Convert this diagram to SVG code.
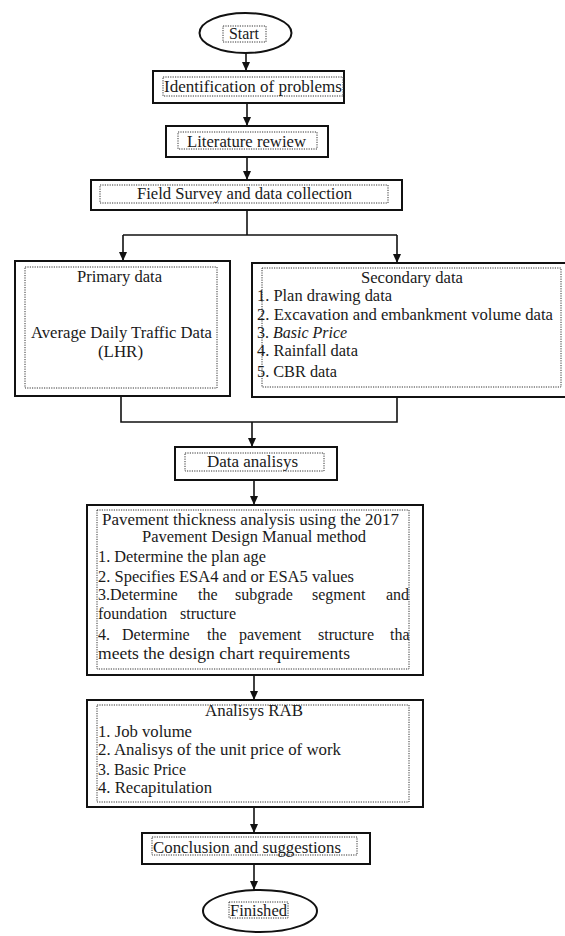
<svg xmlns="http://www.w3.org/2000/svg" width="565" height="936" viewBox="0 0 565 936">
<defs>
<style>
.box{fill:#fff;stroke:#111;stroke-width:2}
.dot{fill:none;stroke:#333;stroke-width:1;stroke-dasharray:1.2 1.2}
.ln{fill:none;stroke:#111;stroke-width:1.6}
text{font-family:'Liberation Serif','Times New Roman',serif;font-size:16px;fill:#1a1a1a}
</style>
<marker id="ah" markerUnits="userSpaceOnUse" markerWidth="10" markerHeight="10" viewBox="0 0 10 10" refX="9" refY="5" orient="auto">
<path d="M0,1 L9,5 L0,9 Z" fill="#111"/>
</marker>
</defs>
<rect width="565" height="936" fill="#fff"/>

<g id="connectors">
<line class="ln" x1="246" y1="53" x2="246" y2="71" marker-end="url(#ah)"/>
<line class="ln" x1="247" y1="103" x2="247" y2="126" marker-end="url(#ah)"/>
<line class="ln" x1="247" y1="157" x2="247" y2="180" marker-end="url(#ah)"/>
<polyline class="ln" points="247,210 247,235"/>
<line class="ln" x1="123" y1="235" x2="397" y2="235"/>
<line class="ln" x1="123" y1="235" x2="123" y2="261" marker-end="url(#ah)"/>
<line class="ln" x1="397" y1="235" x2="397" y2="263" marker-end="url(#ah)"/>
<polyline class="ln" points="121,396 121,422 397,422 397,397"/>
<line class="ln" x1="252" y1="422" x2="252" y2="447" marker-end="url(#ah)"/>
<line class="ln" x1="254" y1="480" x2="254" y2="505" marker-end="url(#ah)"/>
<line class="ln" x1="254" y1="675" x2="254" y2="700" marker-end="url(#ah)"/>
<line class="ln" x1="254" y1="807" x2="254" y2="833" marker-end="url(#ah)"/>
<line class="ln" x1="254" y1="864" x2="254" y2="890" marker-end="url(#ah)"/>
</g>

<g id="start">
<ellipse class="box" cx="245.5" cy="33" rx="46" ry="20" stroke-width="1.6"/>
<rect class="dot" x="223" y="26" width="43" height="16"/>
<text x="229" y="39" textLength="30" lengthAdjust="spacingAndGlyphs">Start</text>
</g>

<g id="identification">
<rect class="box" x="153" y="71" width="191" height="32"/>
<rect class="dot" x="163" y="77" width="180" height="19"/>
<text x="164" y="92" textLength="178" lengthAdjust="spacingAndGlyphs">Identification of problems</text>
</g>

<g id="literature">
<rect class="box" x="166" y="126" width="162" height="31"/>
<rect class="dot" x="178" y="132" width="139" height="17"/>
<text x="187" y="147" textLength="119" lengthAdjust="spacingAndGlyphs">Literature rewiew</text>
</g>

<g id="field-survey">
<rect class="box" x="91" y="180" width="311" height="30"/>
<rect class="dot" x="100" y="185" width="288" height="18"/>
<text x="137" y="199" textLength="215" lengthAdjust="spacingAndGlyphs">Field Survey and data collection</text>
</g>

<g id="primary-data">
<rect class="box" x="15" y="261" width="215" height="135"/>
<rect class="dot" x="25" y="267" width="192" height="121"/>
<text x="77" y="282" textLength="85" lengthAdjust="spacingAndGlyphs">Primary data</text>
<text x="31" y="338" textLength="181" lengthAdjust="spacingAndGlyphs">Average Daily Traffic Data</text>
<text x="98" y="357" textLength="45" lengthAdjust="spacingAndGlyphs">(LHR)</text>
</g>

<g id="secondary-data">
<rect class="box" x="252" y="263" width="320" height="134"/>
<rect class="dot" x="262" y="268" width="299" height="119"/>
<text x="361" y="283" textLength="102" lengthAdjust="spacingAndGlyphs">Secondary data</text>
<text x="257" y="301" textLength="135" lengthAdjust="spacingAndGlyphs">1. Plan drawing data</text>
<text x="257" y="320" textLength="296" lengthAdjust="spacingAndGlyphs">2. Excavation and embankment volume data</text>
<text x="257" y="338">3. <tspan font-style="italic">Basic Price</tspan></text>
<text x="257" y="356" textLength="101" lengthAdjust="spacingAndGlyphs">4. Rainfall data</text>
<text x="257" y="377" textLength="80" lengthAdjust="spacingAndGlyphs">5. CBR data</text>
</g>

<g id="data-analysis">
<rect class="box" x="175" y="447" width="162" height="33"/>
<rect class="dot" x="185" y="453" width="139" height="18"/>
<text x="207" y="467" textLength="91" lengthAdjust="spacingAndGlyphs">Data analisys</text>
</g>

<g id="pavement-analysis">
<rect class="box" x="87" y="505" width="336" height="170"/>
<rect class="dot" x="97" y="510" width="312" height="159"/>
<text x="102" y="525" textLength="297" lengthAdjust="spacingAndGlyphs">Pavement thickness analysis using the 2017</text>
<text x="142" y="542" textLength="224" lengthAdjust="spacingAndGlyphs">Pavement Design Manual method</text>
<text x="98" y="562" textLength="168" lengthAdjust="spacingAndGlyphs">1. Determine the plan age</text>
<text x="98" y="582" textLength="256" lengthAdjust="spacingAndGlyphs">2. Specifies ESA4 and or ESA5 values</text>
<text y="600"><tspan x="98">3.Determine</tspan> <tspan x="198">the</tspan> <tspan x="235">subgrade</tspan> <tspan x="312">segment</tspan> <tspan x="386">and</tspan></text>
<text y="619"><tspan x="98">foundation</tspan> <tspan x="180">structure</tspan></text>
<text y="640"><tspan x="98">4.</tspan> <tspan x="122">Determine</tspan> <tspan x="207">the</tspan> <tspan x="239">pavement</tspan> <tspan x="318">structure</tspan> <tspan x="390">tha</tspan></text>
<text x="98" y="659" textLength="252" lengthAdjust="spacingAndGlyphs">meets the design chart requirements</text>
</g>

<g id="rab-analysis">
<rect class="box" x="87" y="700" width="336" height="107"/>
<rect class="dot" x="97" y="705" width="312" height="97"/>
<text x="205" y="716" textLength="98" lengthAdjust="spacingAndGlyphs">Analisys RAB</text>
<text x="98" y="737" textLength="94" lengthAdjust="spacingAndGlyphs">1. Job volume</text>
<text x="98" y="755" textLength="243" lengthAdjust="spacingAndGlyphs">2. Analisys of the unit price of work</text>
<text x="98" y="775" textLength="88" lengthAdjust="spacingAndGlyphs">3. Basic Price</text>
<text x="98" y="793" textLength="114" lengthAdjust="spacingAndGlyphs">4. Recapitulation</text>
</g>

<g id="conclusion">
<rect class="box" x="142" y="833" width="228" height="31"/>
<rect class="dot" x="152" y="837" width="205" height="18"/>
<text x="153" y="853" textLength="188" lengthAdjust="spacingAndGlyphs">Conclusion and suggestions</text>
</g>

<g id="finished">
<ellipse class="box" cx="260" cy="911" rx="57" ry="21" stroke-width="1.6"/>
<rect class="dot" x="229" y="902" width="59" height="16"/>
<text x="230" y="916" textLength="57" lengthAdjust="spacingAndGlyphs">Finished</text>
</g>
</svg>
